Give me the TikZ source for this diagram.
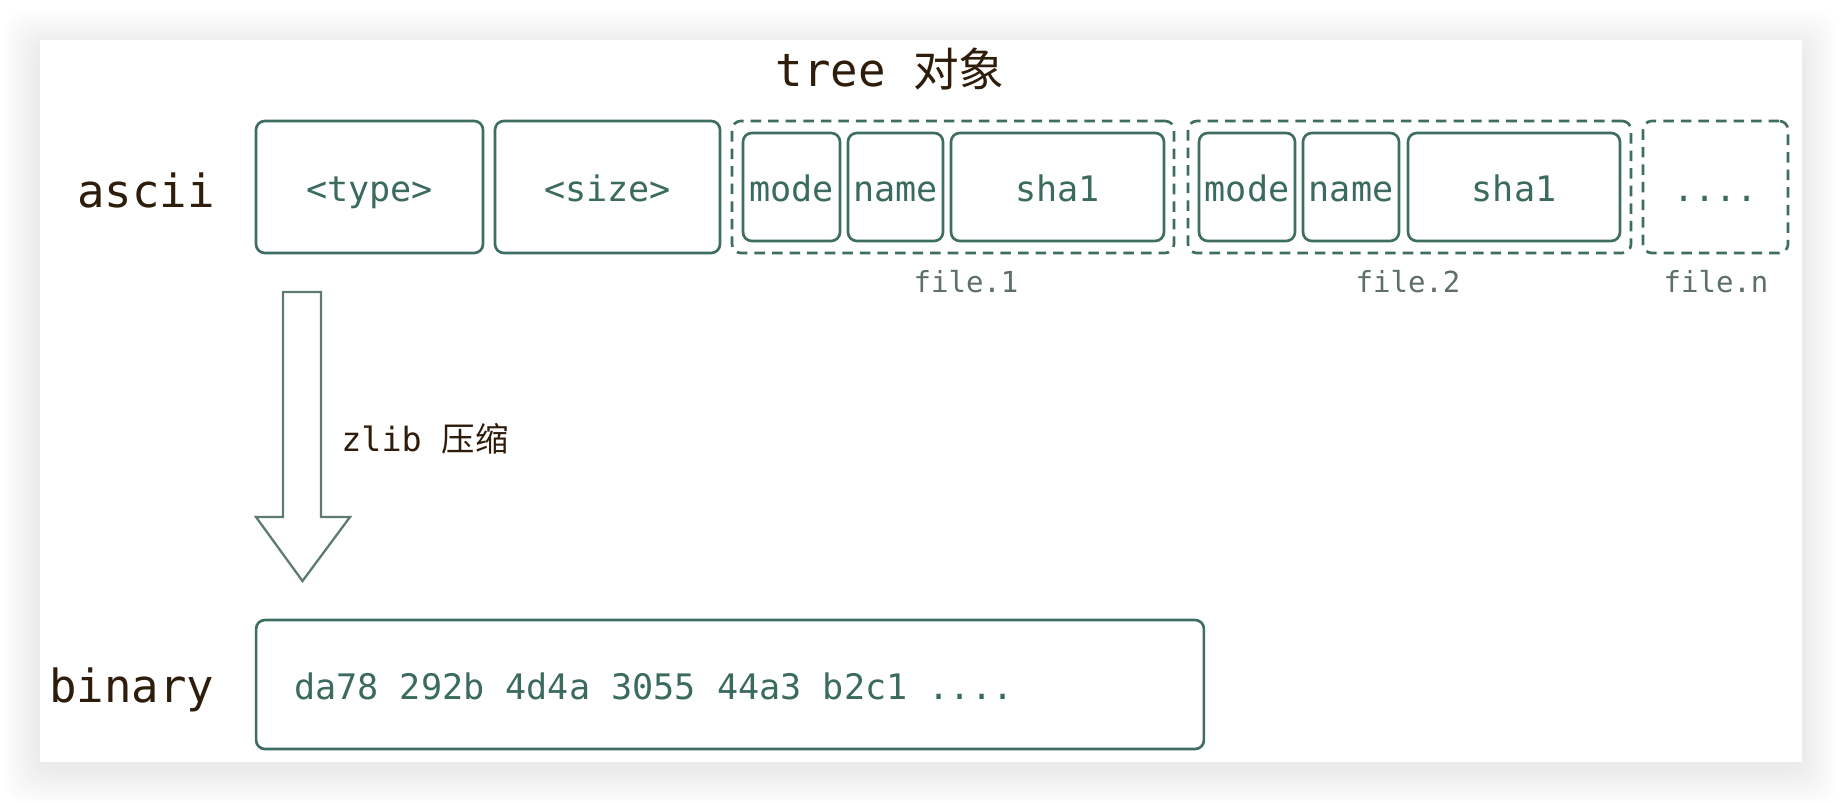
\documentclass[tikz,border=0pt]{standalone}
\usepackage{fontspec}
\setmonofont{DejaVu Sans Mono}
\newfontfamily\cjk{Noto Sans CJK SC}
\usetikzlibrary{calc}

\definecolor{boxgreen}{HTML}{3E6E62}
\definecolor{textgreen}{HTML}{3A6B5E}
\definecolor{labelbrown}{HTML}{2E1D0B}
\definecolor{filegray}{HTML}{5E6E6A}
\definecolor{arrowgray}{HTML}{5F7A74}

\tikzset{
	cell/.style={draw=boxgreen, line width=1.5pt, rounded corners=5pt, text=textgreen,
		font=\fontsize{20pt}{24pt}\selectfont\ttfamily, text height=20pt, text depth=3pt, inner sep=0pt},
	group/.style={cell, dash pattern=on 6pt off 4pt},
	rowlabel/.style={text=labelbrown, font=\fontsize{26pt}{30pt}\selectfont\ttfamily, inner sep=0pt, anchor=base},
	filelabel/.style={text=filegray, font=\fontsize{16.5pt}{20pt}\selectfont\ttfamily, inner sep=0pt, anchor=base},
}

\begin{document}
\begin{tikzpicture}[x=0.02cm, y=-0.02cm]
			%%%%% START %%%%%
			
			\useasboundingbox (0, 0) rectangle (1842, 802);
			\fill[white] (0, 0) rectangle (1842, 802);
			
			% card with soft shadow
			\foreach \s in {1,...,20}
				\fill[black, opacity=0.0035, rounded corners=12pt] ({40-\s*1.8}, {46-\s*1.8}) rectangle ({1802+\s*1.8}, {768+\s*1.8});
			\fill[white] (40, 40) rectangle (1802, 762);
			
			\node[rowlabel] (title) at (890, 86) {tree {\cjk 对象}};
			
			% ascii row
			\node[rowlabel] (ascii) at (146, 207) {ascii};
			\node[cell, minimum width=4.54cm, minimum height=2.64cm] (type) at (369.5, 187) {<type>};
			\node[cell, minimum width=4.5cm, minimum height=2.64cm] (size) at (607.5, 187) {<size>};
			
			\node[group, minimum width=8.84cm, minimum height=2.64cm] (file1) at (953, 187) {};
			\node[cell, minimum width=1.94cm, minimum height=2.16cm] (mode1) at (791.5, 187) {mode};
			\node[cell, minimum width=1.9cm, minimum height=2.16cm] (name1) at (895.5, 187) {name};
			\node[cell, minimum width=4.26cm, minimum height=2.16cm] (sha1a) at (1057.5, 187) {sha1};
			
			\node[group, minimum width=8.86cm, minimum height=2.64cm] (file2) at (1409.5, 187) {};
			\node[cell, minimum width=1.92cm, minimum height=2.16cm] (mode2) at (1247, 187) {mode};
			\node[cell, minimum width=1.92cm, minimum height=2.16cm] (name2) at (1351, 187) {name};
			\node[cell, minimum width=4.24cm, minimum height=2.16cm] (sha1b) at (1514, 187) {sha1};
			
			\node[group, minimum width=2.9cm, minimum height=2.64cm] (filen) at (1715.5, 187) {....};
			
			\node[filelabel] (lab1) at (966, 292) {file.1};
			\node[filelabel] (lab2) at (1408, 292) {file.2};
			\node[filelabel] (labn) at (1716, 292) {file.n};
			
			% zlib arrow
			\draw[arrowgray, line width=1.3pt, line join=miter] (283, 292) -- (321, 292) -- (321, 517) -- (350, 517) -- (302.5, 581) -- (256, 517) -- (283, 517) -- cycle;
			\node[text=labelbrown, font=\fontsize{19pt}{23pt}\selectfont\ttfamily, inner sep=0pt, anchor=base west] (zlib) at (341, 451) {zlib {\cjk 压缩}};
			
			% binary row
			\node[rowlabel] (binary) at (132, 702) {binary};
			\node[cell, minimum width=18.96cm, minimum height=2.58cm, inner xsep=0.76cm] (data) at (730, 684.5) {\makebox[17.44cm][l]{da78 292b 4d4a 3055 44a3 b2c1 ....}};
			
			%%%%% END %%%%%
		\end{tikzpicture}
\end{document}
